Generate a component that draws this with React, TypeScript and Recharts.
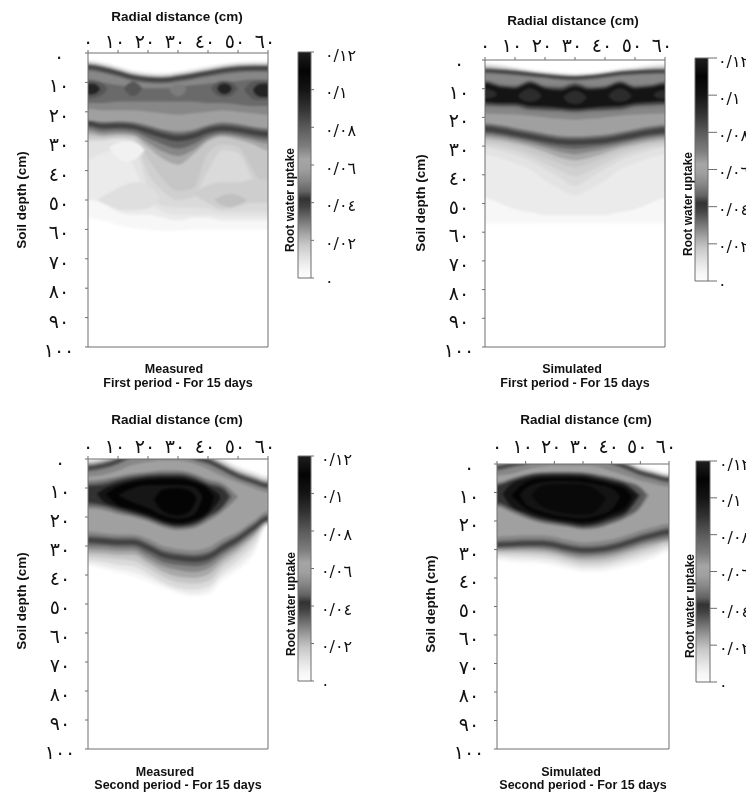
import React from "react";
import { ComposedChart, Area, XAxis, YAxis } from "recharts";

const radial = [0, 5, 10, 15, 20, 25, 30, 35, 40, 45, 50, 55, 60];
const radialTicks = [0, 10, 20, 30, 40, 50, 60];
const radialLabels = ["٠", "١٠", "٢٠", "٣٠", "٤٠", "٥٠", "٦٠"];
const depthTicks = [0, 10, 20, 30, 40, 50, 60, 70, 80, 90, 100];
const depthLabels = ["٠", "١٠", "٢٠", "٣٠", "٤٠", "٥٠", "٦٠", "٧٠", "٨٠", "٩٠", "١٠٠"];
const uptakeTicks = [0, 0.02, 0.04, 0.06, 0.08, 0.1, 0.12];
const uptakeLabels = ["٠", "٠/٠٢", "٠/٠٤", "٠/٠٦", "٠/٠٨", "٠/١", "٠/١٢"];

// Grey scale of the colour bar: uptake value -> grey level
const scaleValues = [0, 0.004, 0.008, 0.013, 0.018, 0.023, 0.028, 0.033, 0.038, 0.042, 0.046, 0.052, 0.058, 0.063, 0.07, 0.08, 0.09, 0.1, 0.11, 0.12];
const scaleGreys = [252, 247, 235, 218, 198, 168, 135, 100, 65, 50, 100, 135, 160, 165, 125, 90, 50, 20, 4, 30];

const bandLevels = [0.004, 0.008, 0.013, 0.018, 0.023, 0.028, 0.033, 0.038, 0.046, 0.052];
const mfLevels = [0.004, 0.008, 0.0105, 0.013, 0.0155, 0.018, 0.023, 0.028, 0.033, 0.038, 0.046, 0.052];
const sfLevels = [0.004, 0.008, 0.0105, 0.013, 0.0155, 0.018, 0.023, 0.028, 0.033, 0.038, 0.046, 0.052];

// ---- Measured, first period: depth of each contour at each radial distance
const mfTops = [
  [2.2, 3.0, 4.3, 5.7, 6.4, 6.6, 6.0, 5.2, 4.3, 3.4, 2.8, 2.6, 2.6],
  [2.6, 3.4, 4.7, 6.1, 6.8, 7.0, 6.4, 5.6, 4.7, 3.8, 3.2, 3.0, 3.0],
  [2.8, 3.6, 4.9, 6.3, 7.0, 7.2, 6.6, 5.8, 4.9, 4.0, 3.4, 3.2, 3.2],
  [3.0, 3.8, 5.1, 6.5, 7.2, 7.4, 6.8, 6.0, 5.1, 4.2, 3.6, 3.4, 3.4],
  [3.2, 4.0, 5.3, 6.7, 7.4, 7.6, 7.0, 6.2, 5.3, 4.4, 3.8, 3.6, 3.6],
  [3.3, 4.1, 5.4, 6.8, 7.5, 7.7, 7.1, 6.3, 5.4, 4.5, 3.9, 3.7, 3.7],
  [3.6, 4.4, 5.7, 7.1, 7.8, 8.0, 7.4, 6.6, 5.7, 4.8, 4.2, 4.0, 4.0],
  [3.8, 4.6, 5.9, 7.3, 8.0, 8.2, 7.6, 6.8, 5.9, 5.0, 4.4, 4.2, 4.2],
  [4.0, 4.8, 6.1, 7.5, 8.2, 8.4, 7.8, 7.0, 6.1, 5.2, 4.6, 4.4, 4.4],
  [4.3, 5.1, 6.4, 7.8, 8.5, 8.7, 8.1, 7.3, 6.4, 5.5, 4.9, 4.7, 4.7],
  [5.3, 6.1, 7.4, 8.8, 9.5, 9.7, 9.1, 8.3, 7.4, 6.5, 5.9, 5.7, 5.7],
  [6.0, 6.8, 8.1, 9.5, 10.2, 10.4, 9.8, 9.0, 8.1, 7.2, 6.6, 6.4, 6.4],
];
const mfBottoms = [
  [56, 57, 58.5, 59.5, 60, 60.5, 60.5, 60, 60, 60, 60, 60, 60],
  [50, 51, 54, 55, 55, 56, 57, 56, 56, 57, 57, 57, 57],
  [36, 34, 33, 38, 50, 54, 55, 55, 55, 55.5, 55.5, 55.5, 55.5],
  [30, 30, 29, 30, 46, 52, 52.5, 52.5, 53, 54, 54, 54, 54],
  [29.5, 29.5, 29, 29.5, 41, 47, 50, 49, 40, 33, 34, 43, 49],
  [29, 29, 28.7, 29, 36, 43, 47, 46, 34, 31, 32, 40, 46],
  [27.6, 28.3, 27.9, 28.2, 32, 36, 38, 34.5, 30, 28.5, 29.5, 31, 33],
  [26.5, 27.5, 27.2, 27.6, 30.5, 33.5, 35, 33, 29.3, 27.9, 28.6, 29.8, 30.8],
  [25.5, 26.5, 26.3, 26.7, 28.8, 31, 32.5, 31, 28.3, 27.2, 27.8, 28.8, 29.5],
  [24.6, 25.6, 25.4, 25.8, 27.4, 29, 30, 29.2, 27.2, 26.4, 26.9, 27.8, 28.4],
  [23.3, 24.3, 24.1, 24.5, 25.8, 27.3, 28.1, 27.4, 25.6, 24.8, 25.3, 26.2, 26.8],
  [22.5, 23.5, 23.3, 23.7, 25, 26.3, 27.2, 26.5, 24.8, 24, 24.5, 25.3, 26],
];
const mfBlobLevels = [0.0115, 0.016, 0.019, 0.006, 0.058, 0.047, 0.081, 0.095, 0.081, 0.07, 0.081, 0.095, 0.081, 0.095];
const mfBlobX = [
  [3, 8, 12, 16, 20, 24],
  [35, 40, 45, 50, 55, 60, 64],
  [42, 45, 47.5, 50, 53],
  [7, 10, 13, 16, 19],
  [0, 5, 10, 15, 20, 25, 30, 35, 40, 45, 50, 55, 60],
  [0, 5, 10, 15, 20, 25, 30, 35, 40, 45, 50, 55, 60],
  [0, 2, 4, 5.5, 6.5],
  [0, 1.5, 3, 4],
  [12, 13.5, 15, 16.5, 18],
  [27, 28.5, 30, 31.5, 33],
  [41, 43, 45.4, 48, 50],
  [43, 44, 45.4, 47, 48],
  [52, 54, 56, 58, 60],
  [55, 56, 58, 60],
];
const mfBlobTops = [
  [50, 47, 45, 44, 45, 49],
  [48, 45, 44, 44, 43, 43, 43],
  [50, 48.5, 48, 48.5, 50],
  [32, 30.5, 30, 30.5, 33],
  [19, 19.5, 19.5, 19.5, 20, 20.5, 21, 20.5, 20, 19.5, 20, 20.5, 21],
  [9, 10, 11, 11.5, 12, 12, 11.5, 11, 10.5, 10, 9.5, 9, 9],
  [9.5, 9.5, 10, 11, 12.2],
  [10.5, 10.5, 11, 12.3],
  [12, 10.4, 9.8, 10.4, 12],
  [12.3, 11, 10.6, 11, 12.3],
  [12, 10, 9.5, 10, 12],
  [12, 10.8, 10.4, 10.8, 12],
  [12.5, 10.3, 9.6, 9.5, 9.5],
  [12.5, 11.2, 10.5, 10.5],
];
const mfBlobBottoms = [
  [50, 52.5, 53.5, 53.5, 53, 49],
  [48, 51, 53, 52, 51, 51, 51],
  [50, 51.8, 52.5, 51.8, 50],
  [32, 36, 37, 36, 33],
  [23, 23.5, 23.2, 23.5, 24.5, 26, 26.5, 26, 24.5, 23.5, 24, 25, 25.5],
  [17, 17, 16.5, 16.5, 16.5, 16.5, 16.5, 16.5, 17, 17, 17.5, 18, 18],
  [15.5, 15.3, 14.6, 13.6, 12.2],
  [14, 14, 13.4, 12.3],
  [12, 14, 14.6, 14, 12],
  [12.3, 14.2, 14.8, 14.2, 12.3],
  [12, 14.4, 15, 14.4, 12],
  [12, 13.5, 14, 13.5, 12],
  [12.5, 15, 16, 16, 16],
  [12.5, 14.2, 15, 15],
];

// ---- Simulated, first period
const sfTops = [
  [0.8, 1.3, 2.2, 3.1, 3.7, 4.2, 4.5, 4.2, 3.6, 2.8, 2.2, 1.4, 1],
  [1.3, 1.8, 2.6, 3.4, 4, 4.5, 4.8, 4.5, 3.9, 3.1, 2.6, 1.9, 1.5],
  [1.6, 2.1, 2.8, 3.6, 4.2, 4.7, 5, 4.7, 4.1, 3.3, 2.8, 2.2, 1.8],
  [1.9, 2.3, 2.9, 3.7, 4.3, 4.8, 5.1, 4.8, 4.2, 3.4, 2.9, 2.4, 2.1],
  [2.1, 2.5, 3.1, 3.8, 4.4, 4.9, 5.2, 4.9, 4.3, 3.5, 3.1, 2.6, 2.3],
  [2.3, 2.7, 3.2, 3.9, 4.5, 5, 5.3, 5, 4.4, 3.6, 3.2, 2.7, 2.5],
  [2.6, 3, 3.4, 4.1, 4.7, 5.2, 5.5, 5.2, 4.6, 3.8, 3.4, 3, 2.8],
  [2.9, 3.2, 3.6, 4.3, 4.9, 5.4, 5.6, 5.3, 4.7, 4, 3.6, 3.2, 3.1],
  [3.1, 3.4, 3.8, 4.4, 5, 5.5, 5.7, 5.4, 4.8, 4.1, 3.7, 3.4, 3.3],
  [3.3, 3.6, 4, 4.5, 5.1, 5.6, 5.8, 5.5, 4.9, 4.2, 3.8, 3.6, 3.5],
  [4.1, 4.4, 4.8, 5.3, 5.8, 6.4, 6.6, 6.3, 5.7, 5, 4.6, 4.4, 4.3],
  [4.7, 5, 5.4, 5.9, 6.4, 7, 7.2, 6.9, 6.3, 5.6, 5.2, 5, 4.9],
];
const sfBottoms = [
  [57, 57, 57, 57, 57, 57, 57, 57, 57, 57, 57, 57, 57],
  [48, 50, 52, 53, 54, 54, 54, 54, 54, 53, 52, 50, 48],
  [33, 34, 36, 38, 42, 45, 47, 45, 42, 38, 36, 34, 33],
  [30.5, 31.5, 33, 35, 38, 41, 44, 41, 38, 35, 33, 31.5, 30.5],
  [29.5, 30.3, 31.5, 33.5, 36, 38.5, 40.5, 38.5, 36, 33.5, 31.7, 30.5, 29.8],
  [28.5, 29.2, 30.2, 32, 34, 36, 37.5, 36, 34, 32, 30.5, 29.5, 29],
  [27.5, 28, 29, 30.2, 32, 34, 35, 34, 32.4, 30.7, 29.5, 28.5, 28],
  [26.5, 27, 28, 29.2, 30.5, 32, 32.8, 32, 30.9, 29.7, 28.5, 27.5, 27],
  [25.6, 26.2, 27.2, 28.2, 29.5, 30.5, 31, 30.5, 29.8, 28.8, 27.7, 26.7, 26.2],
  [24.9, 25.5, 26.5, 27.5, 28.5, 29.3, 29.5, 29.3, 28.9, 28, 27, 26, 25.5],
  [23.2, 23.8, 24.8, 25.8, 26.8, 27.6, 27.8, 27.6, 27.2, 26.3, 25.3, 24.3, 23.8],
  [22.4, 23, 24, 25, 26, 26.8, 27, 26.8, 26.4, 25.5, 24.5, 23.5, 23],
];
const sfBlobLevels = [0.058, 0.07, 0.085, 0.1, 0.092, 0.092, 0.092, 0.092, 0.092];
const sfBlobX = [
  [0, 5, 10, 15, 20, 25, 30, 35, 40, 45, 50, 55, 60],
  [0, 5, 10, 15, 20, 25, 30, 35, 40, 45, 50, 55, 60],
  [0, 5, 10, 15, 20, 25, 30, 35, 40, 45, 50, 55, 60],
  [0, 5, 10, 15, 20, 25, 30, 35, 40, 45, 50, 55, 60],
  [0, 1.5, 3, 4],
  [11, 13, 15, 17, 19],
  [26, 28, 30, 32, 34],
  [41, 43, 45, 47, 49],
  [56, 57.5, 59, 60],
];
const sfBlobTops = [
  [18.6, 18.8, 19, 19.4, 20, 20.5, 20.8, 20.5, 20, 19.4, 19, 18.8, 18.6],
  [6.8, 8, 8.4, 6.8, 8.4, 8.6, 7.5, 8.6, 8.6, 6.9, 8.4, 8, 7.2],
  [7.4, 8.8, 9.2, 7.4, 9.2, 9.6, 8.2, 9.6, 9.2, 7.5, 9.2, 8.8, 7.8],
  [8.2, 9.6, 10, 8.2, 10, 10.6, 9.2, 10.4, 10, 8.3, 10, 9.6, 8.7],
  [10, 10.3, 10.8, 12],
  [12.5, 10.5, 9.8, 10.5, 12.5],
  [13, 11.2, 10.6, 11.2, 13],
  [12.5, 10.5, 9.8, 10.5, 12.5],
  [12.3, 11, 10.5, 10.5],
];
const sfBlobBottoms = [
  [22, 22.6, 23.5, 24.5, 25.5, 26.3, 26.5, 26.3, 25.9, 25, 24, 23, 22.5],
  [17, 17, 17.2, 18.2, 18.4, 18.6, 19, 18.6, 18.4, 18.2, 17.2, 17, 16.6],
  [15.8, 16, 16, 17.2, 17.4, 17.6, 18, 17.6, 17.4, 17.2, 16, 15.8, 15.5],
  [14.6, 15, 15, 16, 16.2, 16.6, 17, 16.6, 16.2, 16, 15, 14.6, 14.5],
  [13.5, 13.3, 13, 12],
  [12.5, 14.2, 14.6, 14.2, 12.5],
  [13, 15, 15.4, 15, 13],
  [12.5, 14.2, 14.6, 14.2, 12.5],
  [12.3, 13.2, 13.5, 13.5],
];

// ---- Measured, second period
const msTops = [
  [-0.5, -1.3, -2.9, -5.5, -7.5, -7.5, -7.5, -4.5, -2.9, -0.4, 2.2, 4, 5.5],
  [0, -0.8, -2.4, -5, -7, -7, -7, -4, -2.4, 0.1, 2.7, 4.5, 6],
  [0.6, -0.2, -1.8, -4.4, -6.4, -6.4, -6.4, -3.4, -1.8, 0.7, 3.3, 5.1, 6.6],
  [1.1, 0.3, -1.3, -3.9, -5.9, -5.9, -5.9, -2.9, -1.3, 1.2, 3.8, 5.6, 7.1],
  [1.5, 0.7, -0.9, -3.5, -5.5, -5.5, -5.5, -2.5, -0.9, 1.6, 4.2, 6, 7.5],
  [1.9, 1.1, -0.5, -3.1, -5.1, -5.1, -5.1, -2.1, -0.5, 2, 4.6, 6.4, 7.9],
  [2.3, 1.5, -0.1, -2.7, -4.7, -4.7, -4.7, -1.7, -0.1, 2.4, 5, 6.8, 8.3],
  [2.7, 1.9, 0.3, -2.3, -4.3, -4.3, -4.3, -1.3, 0.3, 2.8, 5.4, 7.2, 8.7],
  [3.6, 2.8, 1.2, -1.4, -3.4, -3.4, -3.4, -0.4, 1.2, 3.7, 6.3, 8.1, 9.6],
  [4.3, 3.5, 1.9, -0.7, -2.7, -2.7, -2.7, 0.3, 1.9, 4.4, 7, 8.8, 10.3],
];
const msBottoms = [
  [37, 38, 39.2, 40.5, 42.5, 44.5, 46.5, 47.5, 47, 42, 38.5, 33.5, 23],
  [36, 37, 38, 39, 41, 43.5, 45.5, 46.5, 45.5, 40.5, 37, 32, 22.8],
  [35, 35.5, 36.5, 37, 39.5, 42.5, 44.5, 45, 44, 39, 35, 30, 22.6],
  [33.5, 34, 34.5, 35, 37.5, 40.5, 42.5, 43, 42, 37, 33, 28, 22.3],
  [32.3, 32.5, 33, 33, 35.8, 38.8, 40.5, 41, 39.8, 35.3, 31.4, 27, 22],
  [31, 31.2, 31.6, 31.6, 34.3, 37, 38.3, 39, 37.8, 33.8, 30.2, 26, 21.7],
  [29.8, 30, 30.4, 30.4, 32.8, 35.5, 36.5, 37, 36, 32.5, 29.2, 25.2, 21.4],
  [28.8, 29.1, 29.5, 29.5, 31.5, 34, 35, 35.5, 34.7, 31.5, 28.4, 24.6, 21.1],
  [27.2, 27.5, 27.9, 27.9, 29.7, 32.2, 33.2, 33.7, 32.9, 29.7, 26.8, 23.2, 19.9],
  [26.4, 26.7, 27.1, 27.1, 28.9, 31.4, 32.4, 32.9, 32.1, 28.9, 26, 22.4, 19.1],
];
const msBlobLevels = [0.058, 0.07, 0.08, 0.09, 0.1, 0.11, 0.117, 0.11];
const msBlobX = [
  [0, 5, 10, 15, 20, 25, 30, 35, 40, 45, 50, 55, 60],
  [0, 5, 10, 15, 20, 25, 30, 35, 40, 45, 50],
  [0, 5, 10, 15, 20, 25, 30, 35, 40, 45, 48],
  [0, 5, 10, 15, 20, 25, 30, 35, 40, 45, 47],
  [3, 5, 10, 15, 20, 25, 30, 35, 40, 44],
  [6, 10, 15, 20, 25, 30, 35, 40, 42],
  [10, 15, 20, 25, 30, 35, 38],
  [22, 25, 30, 34, 36],
];
const msBlobTops = [
  [6, 5.5, 4, 2, 1, 0.5, 0.5, 1.5, 3.5, 6, 8, 10, 11.5],
  [7.5, 7, 6, 5, 4.5, 4, 4, 5, 7, 8.5, 13],
  [8.5, 8, 6.8, 5.8, 5.2, 4.8, 4.8, 5.8, 8, 9.5, 13],
  [9.3, 9, 7.5, 6.5, 5.8, 5.5, 5.5, 6.5, 8.8, 10.5, 13],
  [12, 10.5, 8.5, 7.2, 6.5, 6.2, 6.2, 7.2, 9.5, 12.5],
  [12, 9.5, 8, 7.2, 7, 7, 8, 10.5, 13],
  [12.5, 10, 9, 9, 9, 9.5, 12.5],
  [14, 10.5, 10, 11, 13],
];
const msBlobBottoms = [
  [25, 25.5, 26, 26, 27.5, 30, 31, 31.5, 30.5, 27.5, 25, 21.5, 18],
  [17, 17.5, 19, 20, 21.5, 23.5, 24.5, 24, 21.5, 18, 13],
  [16, 16.5, 18, 19.3, 20.8, 22.8, 23.8, 23.2, 20.5, 16.8, 13],
  [15, 15.8, 17.3, 18.7, 20.2, 22.2, 23.2, 22.5, 19.7, 16, 13],
  [12, 14.5, 16.5, 18, 19.6, 21.6, 22.6, 21.8, 19, 14],
  [12, 16, 17.3, 19, 21, 22, 21, 18, 13],
  [12.5, 15, 17, 19.5, 20.5, 19.5, 14],
  [14, 18, 19.5, 18, 14],
];

// ---- Simulated, second period
const ssTops = [
  [-1.5, -2.5, -3.5, -5.5, -6.5, -6.5, -6.5, -5.5, -3.5, -1.7, 0.4, 1.7, 2.8],
  [-1.1, -2.1, -3.1, -5.1, -6.1, -6.1, -6.1, -5.1, -3.1, -1.3, 0.8, 2.1, 3.2],
  [-0.7, -1.7, -2.7, -4.7, -5.7, -5.7, -5.7, -4.7, -2.7, -0.9, 1.2, 2.5, 3.6],
  [-0.4, -1.4, -2.4, -4.4, -5.4, -5.4, -5.4, -4.4, -2.4, -0.6, 1.5, 2.8, 3.9],
  [-0.1, -1.1, -2.1, -4.1, -5.1, -5.1, -5.1, -4.1, -2.1, -0.3, 1.8, 3.1, 4.2],
  [0.2, -0.8, -1.8, -3.8, -4.8, -4.8, -4.8, -3.8, -1.8, 0, 2.1, 3.4, 4.5],
  [0.5, -0.5, -1.5, -3.5, -4.5, -4.5, -4.5, -3.5, -1.5, 0.3, 2.4, 3.7, 4.8],
  [0.8, -0.2, -1.2, -3.2, -4.2, -4.2, -4.2, -3.2, -1.2, 0.6, 2.7, 4, 5.1],
  [1.6, 0.6, -0.4, -2.4, -3.4, -3.4, -3.4, -2.4, -0.4, 1.4, 3.5, 4.8, 5.9],
  [2.3, 1.3, 0.3, -1.7, -2.7, -2.7, -2.7, -1.7, 0.3, 2.1, 4.2, 5.5, 6.6],
];
const ssBottoms = [
  [34, 34.5, 34.8, 35, 35.8, 37, 38, 38, 37.4, 36.2, 35, 33, 31],
  [33, 33.5, 33.8, 34, 34.8, 36, 37, 37, 36.3, 35, 33.8, 32, 30],
  [32.2, 32.5, 32.6, 33, 33.6, 35, 36, 36, 35.2, 33.8, 32.4, 30.8, 29],
  [31.4, 31.5, 31.6, 31.8, 32.5, 33.8, 34.8, 34.7, 34, 32.6, 31, 29.5, 28],
  [30.6, 30.6, 30.6, 30.8, 31.5, 32.8, 33.6, 33.5, 32.8, 31.3, 29.7, 28.3, 27.2],
  [30, 29.9, 29.8, 29.9, 30.6, 31.8, 32.6, 32.4, 31.7, 30.3, 28.6, 27.4, 26.5],
  [29.5, 29.3, 29.1, 29.2, 29.8, 31, 31.7, 31.5, 30.8, 29.4, 27.7, 26.4, 25.5],
  [29, 28.8, 28.5, 28.5, 29, 30.2, 30.9, 30.7, 29.9, 28.5, 26.8, 25.5, 24.5],
  [27.7, 27.5, 27.2, 27.2, 27.7, 28.9, 29.6, 29.4, 28.6, 27.2, 25.5, 24.2, 23.2],
  [26.9, 26.7, 26.4, 26.4, 26.9, 28.1, 28.8, 28.6, 27.8, 26.4, 24.7, 23.4, 22.4],
];
const ssBlobLevels = [0.058, 0.07, 0.08, 0.09, 0.1, 0.11, 0.116, 0.107];
const ssBlobX = [
  [0, 5, 10, 15, 20, 25, 30, 35, 40, 45, 50, 55, 60],
  [0, 5, 10, 15, 20, 25, 30, 35, 40, 45, 50, 53],
  [0, 5, 10, 15, 20, 25, 30, 35, 40, 45, 50, 52],
  [0, 5, 10, 15, 20, 25, 30, 35, 40, 45, 50],
  [2, 5, 10, 15, 20, 25, 30, 35, 40, 45, 49],
  [5, 10, 15, 20, 25, 30, 35, 40, 45, 47],
  [8, 10, 15, 20, 25, 30, 35, 40, 43],
  [12, 15, 20, 25, 30, 33, 36, 38],
];
const ssBlobTops = [
  [4, 3.5, 2, 1, 0.5, 0.5, 0.5, 1, 2.5, 4, 5.8, 7, 8],
  [6.5, 5, 3.6, 2.9, 2.7, 2.7, 2.9, 3.6, 4.6, 6, 8, 11],
  [7, 5.5, 4, 3.2, 3, 3, 3.2, 4, 5, 6.5, 8.6, 11],
  [7.6, 6, 4.4, 3.6, 3.5, 3.5, 3.7, 4.6, 5.6, 7, 11],
  [10.5, 7, 5.2, 4.2, 4, 4, 4.2, 5.2, 6.3, 7.8, 11],
  [11, 6.5, 5, 4.8, 4.8, 5, 6, 7.2, 9, 11.5],
  [11, 8.5, 6.5, 6, 6, 6.3, 7.2, 8.5, 11.5],
  [11, 8, 7, 7, 7.2, 8, 10, 12],
];
const ssBlobBottoms = [
  [25.5, 25.3, 25, 25, 25.5, 26.7, 27.5, 27.2, 26.4, 25, 23.3, 22, 21],
  [15, 17, 19, 20.6, 21.5, 22.2, 23, 22.6, 21, 19, 15.5, 11],
  [14.3, 16.2, 18.3, 20, 20.9, 21.7, 22.5, 22, 20.5, 18.3, 14.5, 11],
  [13.5, 15.5, 17.7, 19.4, 20.3, 21.1, 21.8, 21.2, 19.6, 17.4, 11],
  [10.5, 14.8, 17, 18.8, 19.8, 20.5, 21.2, 20.5, 18.7, 16.5, 11],
  [11, 15.6, 17.8, 19, 19.8, 20.4, 19.6, 17.5, 15, 11.5],
  [11, 14, 16.5, 18, 18.7, 19.2, 18.2, 16, 11.5],
  [11, 14.5, 16.5, 17.5, 17.7, 17.5, 15, 12],
];

const PAGE_W = 746;
const PAGE_H = 794;
const AXIS = "#6f6f6f";
const BOLD = "'Liberation Sans', Arial, sans-serif";
const DIGITS = "'DejaVu Sans', sans-serif";
const PAD_X = 4; // cm drawn past each side of the plot and cropped, so the blur keeps its edges
const PAD_Y = 4;

function greyOf(v: number): string {
  let g = scaleGreys[scaleGreys.length - 1];
  for (let i = 0; i < scaleValues.length - 1; i++) {
    if (v >= scaleValues[i] && v <= scaleValues[i + 1]) {
      const t = (v - scaleValues[i]) / (scaleValues[i + 1] - scaleValues[i]);
      g = scaleGreys[i] + t * (scaleGreys[i + 1] - scaleGreys[i]);
      break;
    }
  }
  const c = Math.round(g);
  return `rgb(${c},${c},${c})`;
}

function zipLayers(levels: number[], xs: number[][], tops: number[][], bottoms: number[][]) {
  return levels.map((level, k) => {
    const rows = xs[k].map((x, i) => ({ x, range: [tops[k][i], bottoms[k][i]] }));
    // contours that reach a side of the plot carry on flat into the cropped margin
    if (rows[0].x === 0) rows.unshift({ x: -PAD_X, range: rows[0].range });
    if (rows[rows.length - 1].x === 60) rows.push({ x: 60 + PAD_X, range: rows[rows.length - 1].range });
    return { level, rows };
  });
}

const full = (s: React.CSSProperties = {}) => ({ position: "absolute", left: 0, top: 0, ...s } as React.CSSProperties);

function BoldText({ x, y, children, rotate, size = 13.5 }: any) {
  return (
    <text
      x={x}
      y={y}
      textAnchor="middle"
      dominantBaseline="central"
      fontFamily={BOLD}
      fontWeight="bold"
      fontSize={size}
      fill="#111"
      transform={rotate ? `rotate(-90 ${x} ${y})` : undefined}
    >
      {children}
    </text>
  );
}

function HeatField({ box, layers }: any) {
  const [x0, x1, y0, y1] = box;
  const sx = (x1 - x0) / 60;
  const sy = (y1 - y0) / 100;
  const left = x0 - PAD_X * sx;
  const right = x1 + PAD_X * sx;
  const top = y0 - PAD_Y * sy;
  const bottom = y1 + PAD_Y * sy;
  return (
    <div style={{ position: "absolute", left: x0, top: y0, width: x1 - x0, height: y1 - y0, overflow: "hidden" }}>
      <ComposedChart
        width={PAGE_W}
        height={PAGE_H}
        style={{ position: "absolute", left: -x0, top: -y0, filter: "blur(1px)" }}
        margin={{ left, right: PAGE_W - right, top, bottom: PAGE_H - bottom }}
      >
        <XAxis hide dataKey="x" type="number" domain={[-PAD_X, 60 + PAD_X]} allowDataOverflow />
        <YAxis hide type="number" domain={[-PAD_Y, 100 + PAD_Y]} reversed allowDataOverflow />
        {layers.map((l: any, i: number) => (
          <Area key={i} data={l.rows} dataKey="range" type="monotone" stroke="none" fill={greyOf(l.level)} fillOpacity={1} dot={false} activeDot={false} isAnimationActive={false} />
        ))}
      </ComposedChart>
    </div>
  );
}

function HeatPanel({ box, tickX, tickY, labels, levels, tops, bottoms, blobs }: any) {
  const [x0, x1, y0, y1] = box;
  const layers = [...zipLayers(levels, levels.map(() => radial), tops, bottoms), ...blobs];
  const axisW = 40;
  const axisH = 30;
  const XTick = (p: any) => (
    <text x={p.payload.value === 0 ? p.x : p.x - 3} y={y0 - tickY} textAnchor="middle" dominantBaseline="central" fontFamily={DIGITS} fontSize={19} letterSpacing={1} fill="#111">
      {radialLabels[radialTicks.indexOf(p.payload.value)]}
    </text>
  );
  const YTick = (p: any) => (
    <text x={x0 - tickX} y={p.y + 3} textAnchor="middle" dominantBaseline="central" fontFamily={DIGITS} fontSize={19} letterSpacing={2} fill="#111">
      {depthLabels[depthTicks.indexOf(p.payload.value)]}
    </text>
  );
  const none = () => <g />;
  return (
    <>
      <HeatField box={box} layers={layers} />
      <ComposedChart
        width={PAGE_W}
        height={PAGE_H}
        style={full()}
        margin={{ left: x0 - axisW, right: PAGE_W - x1 - 6, top: y0 - axisH, bottom: PAGE_H - y1 - 2 }}
      >
        <XAxis xAxisId="top" dataKey="x" type="number" orientation="top" domain={[0, 60]} ticks={radialTicks} height={axisH} allowDataOverflow tick={XTick} tickSize={3} interval={0} axisLine={{ stroke: AXIS }} tickLine={{ stroke: AXIS }} />
        <XAxis xAxisId="bottom" dataKey="x" type="number" orientation="bottom" domain={[0, 60]} ticks={radialTicks} height={2} tick={none} tickLine={false} axisLine={{ stroke: AXIS }} />
        <YAxis yAxisId="left" type="number" domain={[0, 100]} reversed ticks={depthTicks} width={axisW} allowDataOverflow tick={YTick} tickSize={3} interval={0} axisLine={{ stroke: AXIS }} tickLine={{ stroke: AXIS }} />
        <YAxis yAxisId="right" type="number" orientation="right" domain={[0, 100]} reversed ticks={depthTicks} width={6} tick={none} tickSize={3} interval={0} axisLine={{ stroke: AXIS }} tickLine={{ stroke: AXIS }} />
        <BoldText x={labels.title[0]} y={labels.title[1]}>Radial distance (cm)</BoldText>
        <BoldText x={labels.soil[0]} y={labels.soil[1]} rotate>Soil depth (cm)</BoldText>
        <BoldText x={labels.kind[0]} y={labels.kind[1]} size={12.5}>{labels.kind[2]}</BoldText>
        <BoldText x={labels.period[0]} y={labels.period[1]} size={12.5}>{labels.period[2]}</BoldText>
      </ComposedChart>
    </>
  );
}

function ColorBar({ id, box, tickLen, labelGap, labelSpacing, root }: any) {
  const [x0, x1, y0, y1] = box;
  const rows = [0, 1].map((x) => ({ x, range: [0, 0.12] }));
  const axisW = 4;
  const axisH = 2;
  const Tick = (p: any) => (
    <text x={x1 + labelGap} y={p.y + 3} textAnchor="start" dominantBaseline="central" fontFamily={DIGITS} fontSize={16} letterSpacing={labelSpacing} fill="#111">
      {uptakeLabels[uptakeTicks.indexOf(p.payload.value)]}
    </text>
  );
  const none = () => <g />;
  const stops = scaleValues.map((v) => v).reverse();
  return (
    <ComposedChart
      width={PAGE_W}
      height={PAGE_H}
      style={full()}
      margin={{ left: x0 - axisW, right: PAGE_W - x1 - 60, top: y0 - axisH, bottom: PAGE_H - y1 - axisH }}
    >
      <defs>
        <linearGradient id={id} x1="0" y1="0" x2="0" y2="1">
          {stops.map((v, i) => (
            <stop key={i} offset={1 - v / 0.12} stopColor={greyOf(v)} />
          ))}
        </linearGradient>
      </defs>
      <XAxis xAxisId="top" dataKey="x" type="number" orientation="top" domain={[0, 1]} ticks={[0, 1]} height={axisH} tick={none} tickLine={false} axisLine={{ stroke: AXIS }} />
      <XAxis xAxisId="bottom" dataKey="x" type="number" orientation="bottom" domain={[0, 1]} ticks={[0, 1]} height={axisH} tick={none} tickLine={false} axisLine={{ stroke: AXIS }} />
      <YAxis yAxisId="left" type="number" domain={[0, 0.12]} ticks={uptakeTicks} width={axisW} tick={none} tickLine={false} axisLine={{ stroke: AXIS }} />
      <YAxis yAxisId="right" type="number" orientation="right" domain={[0, 0.12]} ticks={uptakeTicks} width={60} allowDataOverflow tick={Tick} tickSize={tickLen} interval={0} axisLine={{ stroke: AXIS }} tickLine={{ stroke: AXIS }} />
      <Area xAxisId="top" yAxisId="left" data={rows} dataKey="range" type="linear" stroke="none" fill={`url(#${id})`} fillOpacity={1} dot={false} activeDot={false} isAnimationActive={false} />
      <BoldText x={root[0]} y={root[1]} rotate size={12}>Root water uptake</BoldText>
    </ComposedChart>
  );
}

export default function App() {
  return (
    <div style={full({ width: PAGE_W, height: PAGE_H, overflow: "hidden", background: "#fff", filter: "blur(0.45px)" })}>
      <HeatPanel
        box={[88, 268, 53, 347]}
        tickX={29}
        tickY={12}
        labels={{ title: [177, 16], soil: [21, 200], kind: [174, 369, "Measured"], period: [178, 383, "First period - For 15 days"] }}
        levels={mfLevels}
        tops={mfTops}
        bottoms={mfBottoms}
        blobs={zipLayers(mfBlobLevels, mfBlobX, mfBlobTops, mfBlobBottoms)}
      />
      <ColorBar id="barA" box={[298, 311, 52, 278]} tickLen={3} labelGap={14} labelSpacing={1} root={[290, 200]} />
      <HeatPanel
        box={[485, 665, 60, 347]}
        tickX={26}
        tickY={15}
        labels={{ title: [573, 20], soil: [420, 203], kind: [572, 369, "Simulated"], period: [575, 383, "First period - For 15 days"] }}
        levels={sfLevels}
        tops={sfTops}
        bottoms={sfBottoms}
        blobs={zipLayers(sfBlobLevels, sfBlobX, sfBlobTops, sfBlobBottoms)}
      />
      <ColorBar id="barB" box={[695, 708, 58, 281]} tickLen={9} labelGap={10} labelSpacing={0} root={[688, 204]} />
      <HeatPanel
        box={[88, 268, 459, 749]}
        tickX={28}
        tickY={13}
        labels={{ title: [177, 419], soil: [21, 601], kind: [165, 772, "Measured"], period: [178, 785, "Second period - For 15 days"] }}
        levels={bandLevels}
        tops={msTops}
        bottoms={msBottoms}
        blobs={zipLayers(msBlobLevels, msBlobX, msBlobTops, msBlobBottoms)}
      />
      <ColorBar id="barC" box={[298, 311, 456, 681]} tickLen={3} labelGap={10} labelSpacing={1} root={[291, 604]} />
      <HeatPanel
        box={[497, 669, 464, 749]}
        tickX={28}
        tickY={18}
        labels={{ title: [586, 419], soil: [430, 604], kind: [571, 772, "Simulated"], period: [583, 785, "Second period - For 15 days"] }}
        levels={bandLevels}
        tops={ssTops}
        bottoms={ssBottoms}
        blobs={zipLayers(ssBlobLevels, ssBlobX, ssBlobTops, ssBlobBottoms)}
      />
      <ColorBar id="barD" box={[696, 710, 461, 682]} tickLen={7} labelGap={9} labelSpacing={0} root={[690, 606]} />
    </div>
  );
}
